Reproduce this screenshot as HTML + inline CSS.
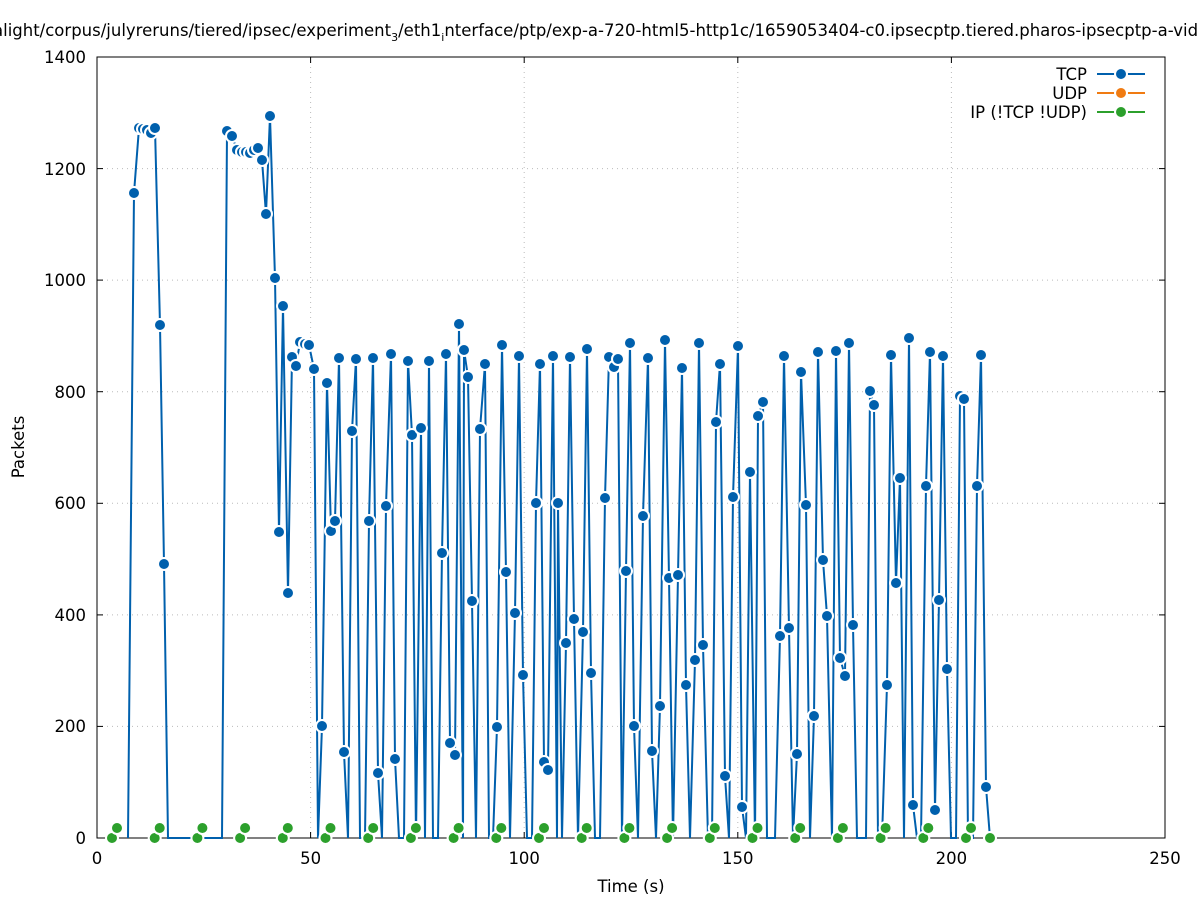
<!DOCTYPE html>
<html><head><meta charset="utf-8"><style>
html,body{margin:0;padding:0;background:#fff;width:1197px;height:900px;overflow:hidden}
svg{display:block;font-family:"DejaVu Sans","Liberation Sans",sans-serif}
</style></head><body>
<svg id="s" width="1197" height="900" viewBox="0 0 1197 900">
<rect width="1197" height="900" fill="#fff"/>
<text x="-7" y="36" font-size="16.5" fill="#000">alight/corpus/julyreruns/tiered/ipsec/experiment<tspan font-size="11" dy="5">3</tspan><tspan dy="-5">/eth1</tspan><tspan font-size="11" dy="5">i</tspan><tspan dy="-5">nterface/ptp/exp-a-720-html5-http1c/1659053404-c0.ipsecptp.tiered.pharos-ipsecptp-a-video.7</tspan></text>
<g stroke="#bbb" stroke-width="1" stroke-dasharray="1,4">
<line x1="310.6" y1="57" x2="310.6" y2="838"/><line x1="524.2" y1="57" x2="524.2" y2="838"/><line x1="737.8" y1="57" x2="737.8" y2="838"/><line x1="951.4" y1="57" x2="951.4" y2="838"/>
<line x1="97" y1="726.4" x2="1165" y2="726.4"/><line x1="97" y1="614.9" x2="1165" y2="614.9"/><line x1="97" y1="503.3" x2="1165" y2="503.3"/><line x1="97" y1="391.7" x2="1165" y2="391.7"/><line x1="97" y1="280.1" x2="1165" y2="280.1"/><line x1="97" y1="168.6" x2="1165" y2="168.6"/><line x1="97" y1="57" x2="1165" y2="57"/>
</g>
<rect x="97" y="57" width="1068" height="781" fill="none" stroke="#000" stroke-width="1"/>
<g stroke="#000" stroke-width="1">
<line x1="310.6" y1="838" x2="310.6" y2="832"/><line x1="524.2" y1="838" x2="524.2" y2="832"/><line x1="737.8" y1="838" x2="737.8" y2="832"/><line x1="951.4" y1="838" x2="951.4" y2="832"/>
<line x1="310.6" y1="57" x2="310.6" y2="63"/><line x1="524.2" y1="57" x2="524.2" y2="63"/><line x1="737.8" y1="57" x2="737.8" y2="63"/><line x1="951.4" y1="57" x2="951.4" y2="63"/>
<line x1="97" y1="726.4" x2="103" y2="726.4"/><line x1="97" y1="614.9" x2="103" y2="614.9"/><line x1="97" y1="503.3" x2="103" y2="503.3"/><line x1="97" y1="391.7" x2="103" y2="391.7"/><line x1="97" y1="280.1" x2="103" y2="280.1"/><line x1="97" y1="168.6" x2="103" y2="168.6"/>
<line x1="1165" y1="726.4" x2="1159" y2="726.4"/><line x1="1165" y1="614.9" x2="1159" y2="614.9"/><line x1="1165" y1="503.3" x2="1159" y2="503.3"/><line x1="1165" y1="391.7" x2="1159" y2="391.7"/><line x1="1165" y1="280.1" x2="1159" y2="280.1"/><line x1="1165" y1="168.6" x2="1159" y2="168.6"/>
</g>
<g font-size="16.5" fill="#000" text-anchor="end">
<text x="86" y="844">0</text><text x="86" y="732">200</text><text x="86" y="621">400</text><text x="86" y="509">600</text><text x="86" y="398">800</text><text x="86" y="286">1000</text><text x="86" y="175">1200</text><text x="86" y="63">1400</text>
</g>
<g font-size="16.5" fill="#000" text-anchor="middle">
<text x="97" y="864">0</text><text x="310.6" y="864">50</text><text x="524.2" y="864">100</text><text x="737.8" y="864">150</text><text x="951.4" y="864">200</text><text x="1165" y="864">250</text>
<text x="631" y="892">Time (s)</text>
<text transform="translate(24,447) rotate(-90)">Packets</text>
</g>
<g font-size="16.5" fill="#000" text-anchor="end">
<text x="1087" y="80">TCP</text><text x="1087" y="99">UDP</text><text x="1087" y="118">IP (!TCP  !UDP)</text>
</g>
<g stroke-width="2">
<line x1="1097" y1="74" x2="1145" y2="74" stroke="#0060ad"/><circle cx="1121" cy="74" r="6" fill="#0060ad" stroke="#fff" stroke-width="2"/>
<line x1="1097" y1="93" x2="1145" y2="93" stroke="#f07b12"/><circle cx="1121" cy="93" r="6" fill="#f07b12" stroke="#fff" stroke-width="2"/>
<line x1="1097" y1="112" x2="1145" y2="112" stroke="#2ca02c"/><circle cx="1121" cy="112" r="6" fill="#2ca02c" stroke="#fff" stroke-width="2"/>
</g>
<g id="data"></g>
</svg>
<script>
var P=[128,838,134,193,139,128,143,129,147,130,151,133,155,128,160,325,164,564,168,838,222,838,227,131,232,136,237,150,242,152,246,152,250,153,254,150,258,148,262,160,266,214,270,116,275,278,279,532,283,306,288,593,292,357,296,366,300,342,305,344,309,345,314,369,318,838,322,726,327,383,331,531,335,521,339,358,344,752,348,838,352,431,356,359,360,838,365,838,369,521,373,358,378,773,382,838,386,506,391,354,395,759,399,838,404,838,408,361,412,435,416,838,421,428,425,838,429,361,433,838,438,838,442,553,446,354,450,743,455,755,459,324,463,838,464,350,468,377,472,601,476,838,480,429,485,364,489,838,493,838,497,727,502,345,506,572,510,838,515,613,519,356,523,675,527,838,532,838,536,503,540,364,544,762,548,770,553,356,557,838,558,503,562,838,566,643,570,357,574,619,578,838,583,632,587,349,591,673,595,838,600,838,605,498,609,357,614,367,618,359,622,838,626,571,630,343,634,726,638,838,643,516,648,358,652,751,656,838,660,706,665,340,669,578,673,838,678,575,682,368,686,685,690,838,695,660,699,343,703,645,708,838,712,838,716,422,720,364,725,776,729,838,733,497,738,346,742,807,746,838,750,472,755,838,758,416,763,402,767,838,771,838,775,838,780,636,784,356,789,628,793,838,797,754,801,372,806,505,810,838,814,716,818,352,823,560,827,616,832,838,836,351,840,658,845,676,849,343,853,625,857,838,861,838,866,838,870,391,874,405,878,838,882,838,887,685,891,355,896,583,900,478,904,838,909,338,913,805,917,838,921,838,926,486,930,352,935,810,939,600,943,356,947,669,951,838,956,838,960,396,964,399,968,838,973,838,977,486,981,355,986,787,990,838];
var g=document.getElementById('data'),h='';
var pts=[];for(var i=0;i<P.length;i+=2)pts.push(P[i]+','+P[i+1]);
h+='<polyline points="'+pts.join(' ')+'" fill="none" stroke="#0060ad" stroke-width="2"/>';
for(var k=0;k<21;k++){var x=112+42.7*k;if(x>990)break;
h+='<circle cx="'+x+'" cy="838" r="6" fill="#2ca02c" stroke="#fff" stroke-width="2"/>';
h+='<circle cx="'+(x+5)+'" cy="828" r="6" fill="#2ca02c" stroke="#fff" stroke-width="2"/>';}
for(var i=0;i<P.length;i+=2){if(P[i+1]<836)h+='<circle cx="'+P[i]+'" cy="'+P[i+1]+'" r="6" fill="#0060ad" stroke="#fff" stroke-width="2"/>';}
h+='<circle cx="990" cy="838" r="6" fill="#2ca02c" stroke="#fff" stroke-width="2"/>';
g.innerHTML=h;
</script>
</body></html>
